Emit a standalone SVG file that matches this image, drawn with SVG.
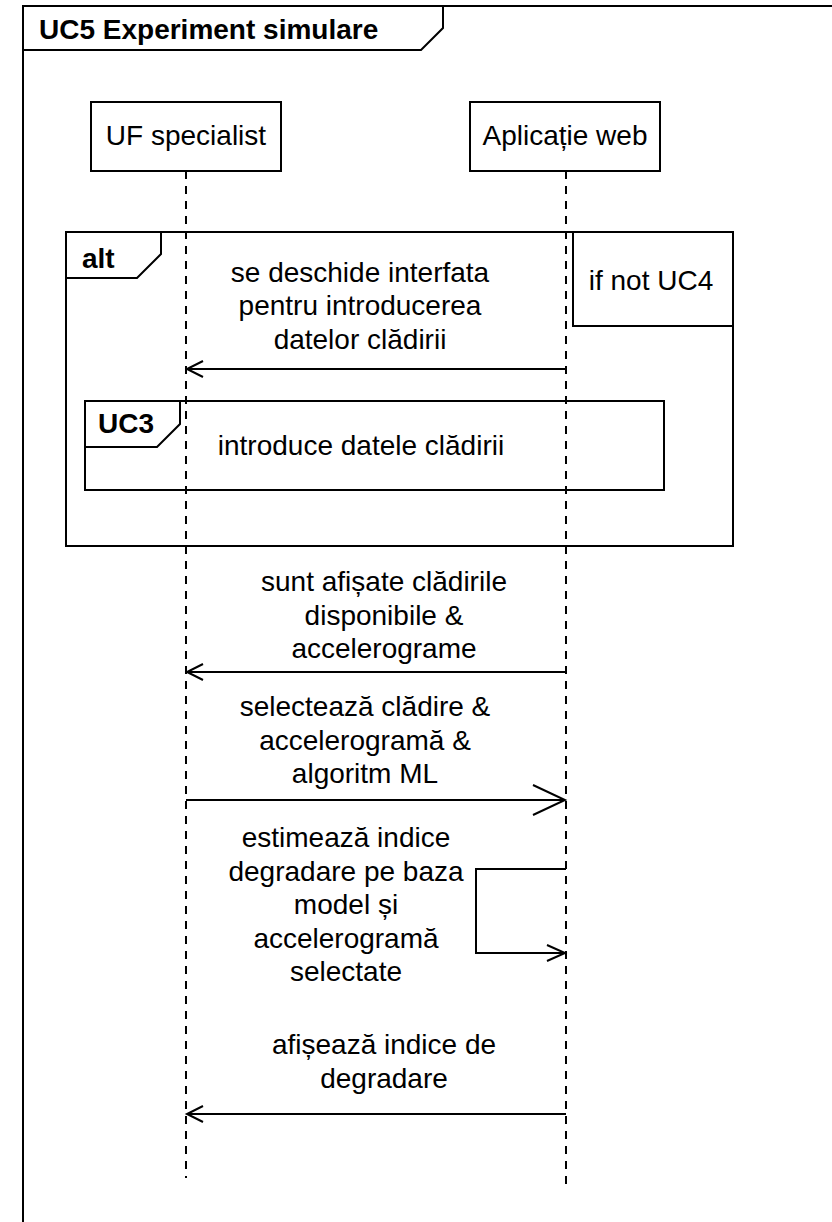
<svg xmlns="http://www.w3.org/2000/svg" width="832" height="1222" viewBox="0 0 832 1222">
  <style>
    .frame { fill: none; stroke: #000; stroke-width: 2; }
    .box { fill: #fff; stroke: #000; stroke-width: 2; }
    .life { fill: none; stroke: #000; stroke-width: 2; stroke-dasharray: 8 7; }
    .msg { fill: none; stroke: #000; stroke-width: 2; }
    .head { fill: none; stroke: #000; stroke-width: 2; stroke-linejoin: miter; }
    text { font-family: "Liberation Sans", Arial, Helvetica, sans-serif; font-size: 28px; fill: #000; }
    .c { text-anchor: middle; }
    .b { font-weight: bold; }
  </style>

  <!-- outer sequence frame -->
  <g id="frame-uc5">
    <rect class="frame" x="23" y="6" width="900" height="1300"/>
    <path class="frame" d="M23,50 L421,50 L443,28 L443,6"/>
    <text class="b" x="39" y="39">UC5 Experiment simulare</text>
  </g>

  <!-- lifelines -->
  <g id="lifeline-uf">
    <line class="life" x1="186" y1="171" x2="186" y2="1178"/>
    <rect class="box" x="91" y="102" width="190" height="69"/>
    <text class="c" x="186" y="145">UF specialist</text>
  </g>
  <g id="lifeline-app">
    <line class="life" x1="566" y1="171" x2="566" y2="1190"/>
    <rect class="box" x="470" y="102" width="190" height="69"/>
    <text class="c" x="565" y="145">Aplicație web</text>
  </g>

  <!-- alt fragment -->
  <g id="fragment-alt">
    <rect class="frame" x="66" y="232" width="667" height="314"/>
    <path class="frame" d="M66,278 L137,278 L161,254 L161,232"/>
    <text class="b" x="82" y="268">alt</text>
    <rect class="frame" x="573" y="232" width="160" height="94"/>
    <text class="c" x="651" y="290">if not UC4</text>
  </g>

  <!-- UC3 interaction use -->
  <g id="fragment-uc3">
    <rect class="frame" x="85" y="401" width="579" height="89"/>
    <path class="frame" d="M85,447 L157,447 L180,424 L180,401"/>
    <text class="b" x="98" y="433">UC3</text>
    <text class="c" x="361" y="455">introduce datele clădirii</text>
  </g>

  <!-- messages -->
  <g id="connectors">
    <g id="msg-interfata">
      <line class="msg" x1="566" y1="369" x2="187" y2="369"/>
      <polyline class="head" points="203,361 187,369 203,377"/>
      <text class="c" x="360" y="282">se deschide interfata</text>
      <text class="c" x="360" y="315">pentru introducerea</text>
      <text class="c" x="360" y="349">datelor clădirii</text>
    </g>
    <g id="msg-cladiri">
      <line class="msg" x1="566" y1="672" x2="187" y2="672"/>
      <polyline class="head" points="203,664 187,672 203,680"/>
      <text class="c" x="384" y="591">sunt afișate clădirile</text>
      <text class="c" x="384" y="625">disponibile &amp;</text>
      <text class="c" x="384" y="658">accelerograme</text>
    </g>
    <g id="msg-selecteaza">
      <line class="msg" x1="186" y1="800" x2="565" y2="800"/>
      <polyline class="head" points="533,785 565,800 533,815"/>
      <text class="c" x="365" y="716">selectează clădire &amp;</text>
      <text class="c" x="365" y="750">accelerogramă &amp;</text>
      <text class="c" x="365" y="783">algoritm ML</text>
    </g>
    <g id="msg-estimeaza">
      <polyline class="msg" points="566,869 476,869 476,953 565,953"/>
      <polyline class="head" points="547,945 565,953 547,961"/>
      <text class="c" x="346" y="847">estimează indice</text>
      <text class="c" x="346" y="881">degradare pe baza</text>
      <text class="c" x="346" y="914">model și</text>
      <text class="c" x="346" y="948">accelerogramă</text>
      <text class="c" x="346" y="981">selectate</text>
    </g>
    <g id="msg-afiseaza">
      <line class="msg" x1="566" y1="1114" x2="187" y2="1114"/>
      <polyline class="head" points="203,1106 187,1114 203,1122"/>
      <text class="c" x="384" y="1054">afișează indice de</text>
      <text class="c" x="384" y="1088">degradare</text>
    </g>
  </g>
</svg>
